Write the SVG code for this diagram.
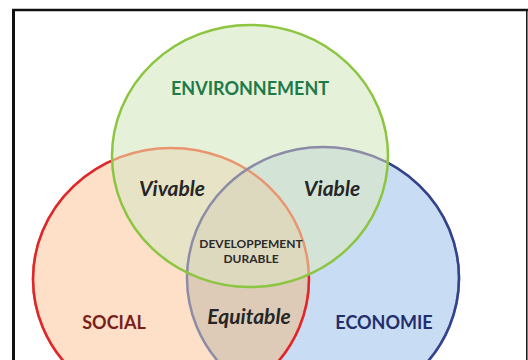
<svg xmlns="http://www.w3.org/2000/svg" width="528" height="360" viewBox="0 0 528 360">
  <style>
    .lbl { font-family: Lato, "Open Sans", "DejaVu Sans", sans-serif; font-weight: bold; text-anchor: middle; }
    .big { font-size: 18px; }
    .it { font-style: italic; font-size: 21px; fill: #262626; }
    .small { font-size: 12px; fill: #2b2b2b; }
  </style>
  <defs>
    <ellipse id="setS" cx="171" cy="279" rx="138" ry="131"/>
    <ellipse id="setE" cx="323" cy="278" rx="136" ry="131"/>
    <ellipse id="setV" cx="250" cy="156" rx="138" ry="131"/>
    <clipPath id="inS"><use href="#setS"/></clipPath>
    <clipPath id="inE"><use href="#setE"/></clipPath>
    <mask id="outV" maskUnits="userSpaceOnUse" x="0" y="0" width="528" height="420">
      <rect width="528" height="420" fill="#fff"/>
      <use href="#setV" fill="#000"/>
    </mask>
    <mask id="outVS" maskUnits="userSpaceOnUse" x="0" y="0" width="528" height="420">
      <rect width="528" height="420" fill="#fff"/>
      <use href="#setV" fill="#000"/>
      <use href="#setS" fill="#000"/>
    </mask>
  </defs>
  <rect width="528" height="360" fill="#ffffff"/>

  <!-- frame (open at the bottom) -->
  <g id="frame" fill="none" stroke="#111111">
    <line x1="13.5" y1="360" x2="13.5" y2="9" stroke-width="3"/>
    <line x1="12" y1="10" x2="528" y2="10" stroke-width="2.5"/>
    <line x1="526.8" y1="10" x2="526.8" y2="360" stroke-width="1.5"/>
  </g>

  <!-- set fills, each overlap region coloured on its own -->
  <g id="social">
    <use href="#setS" fill="#fde0c7"/>
  </g>
  <g id="economie">
    <use href="#setE" fill="#c8ddf3"/>
    <use href="#setE" fill="#ddcbb8" clip-path="url(#inS)"/>
  </g>
  <g id="environnement">
    <use href="#setV" fill="#e6f1da"/>
    <use href="#setV" fill="#e7e3c6" clip-path="url(#inS)"/>
    <use href="#setV" fill="#d3e4d7" clip-path="url(#inE)"/>
    <g clip-path="url(#inS)">
      <use href="#setV" fill="#ddd9bf" clip-path="url(#inE)"/>
    </g>
  </g>

  <!-- outlines -->
  <g id="outlines" fill="none" stroke-width="2.5">
    <use href="#setS" stroke="#e99570"/>
    <use href="#setS" stroke="#e0262c" mask="url(#outV)"/>
    <use href="#setE" stroke="#8d8ca6"/>
    <use href="#setE" stroke="#32438f" mask="url(#outVS)"/>
    <use href="#setV" stroke="#8cc540"/>
  </g>

  <!-- labels -->
  <g id="labels" class="lbl">
    <text class="lbl big" x="250" y="95" fill="#1e7a48">ENVIRONNEMENT</text>
    <text class="lbl it" x="172" y="196">Vivable</text>
    <text class="lbl it" x="332" y="196">Viable</text>
    <text class="lbl small" x="251" y="248">DEVELOPPEMENT</text>
    <text class="lbl small" x="251" y="263">DURABLE</text>
    <text class="lbl big" x="114" y="329" fill="#7a1e1c">SOCIAL</text>
    <text class="lbl it" x="249" y="324">Equitable</text>
    <text class="lbl big" x="384" y="329" fill="#232f6c">ECONOMIE</text>
  </g>
</svg>
